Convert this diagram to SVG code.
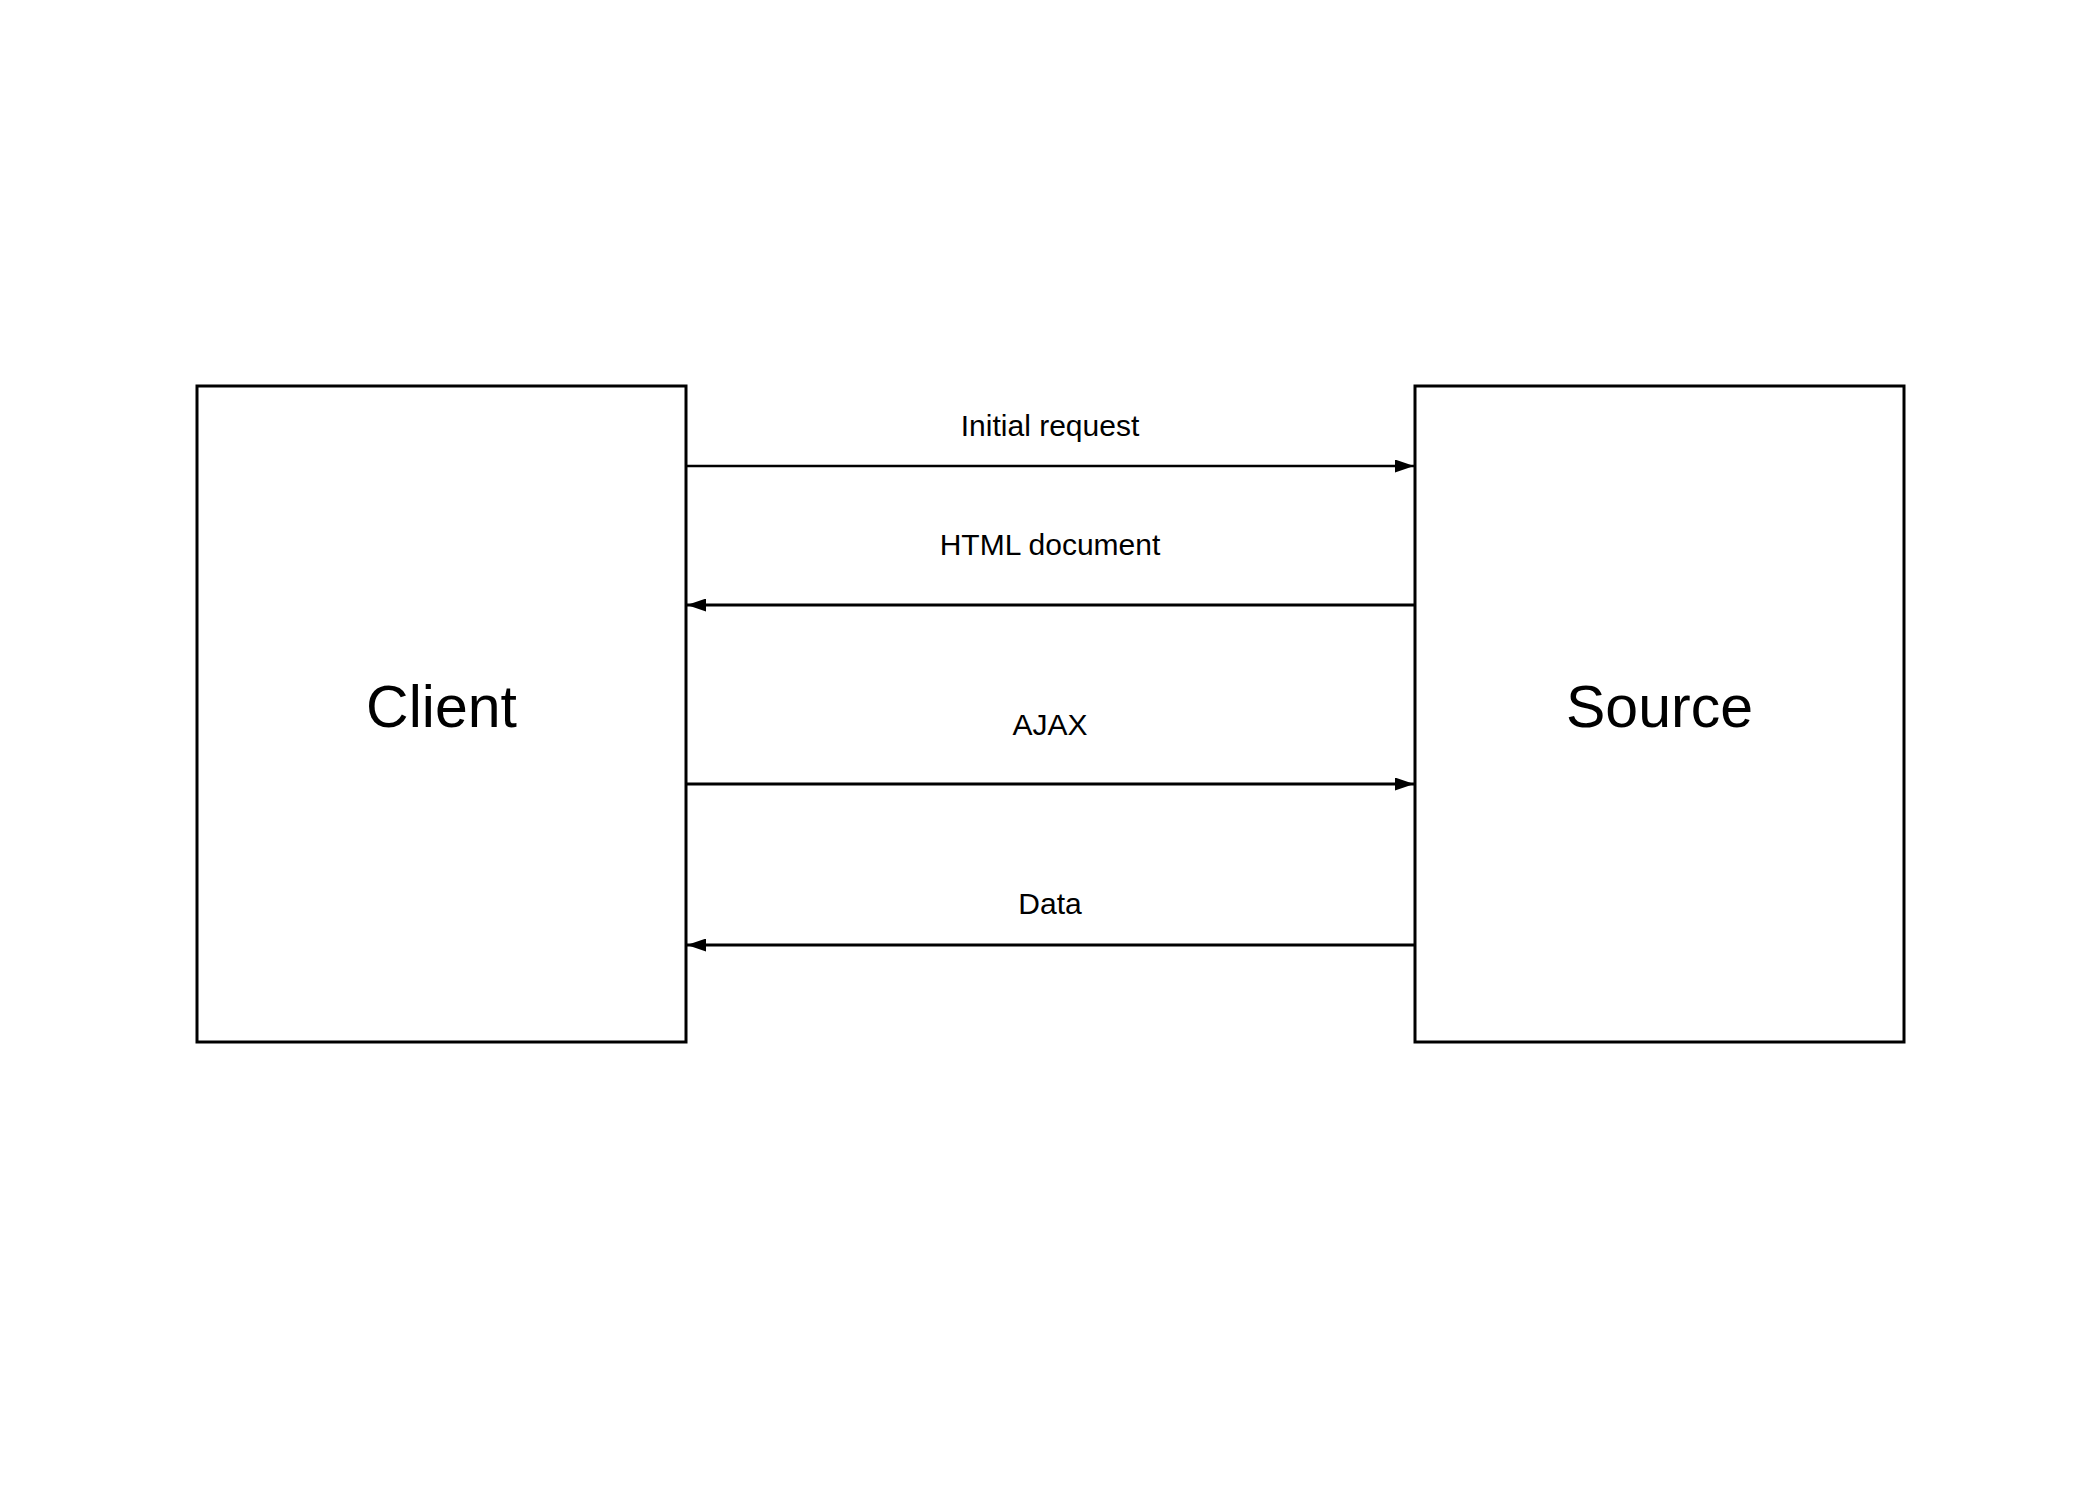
<svg xmlns="http://www.w3.org/2000/svg" width="2100" height="1500" viewBox="0 0 2100 1500">
<style>
.box{fill:#fff;stroke:#000;stroke-width:3}
.big{font-family:"Liberation Sans",Arial,sans-serif;font-size:59px;fill:#000;text-anchor:middle}
.lbl{font-family:"Liberation Sans",Arial,sans-serif;font-size:30px;fill:#000;text-anchor:middle}
.conn{stroke:#000;stroke-width:2.7;fill:none}
.thick{stroke-width:3.2}
</style>
<defs>
<marker id="ah" viewBox="0 0 19 13" refX="19" refY="6.5" markerWidth="19" markerHeight="13" markerUnits="userSpaceOnUse" orient="auto">
<path d="M0,0 L19,6.5 L0,13 Z" fill="#000"/>
</marker>
</defs>
<rect width="2100" height="1500" fill="#fff"/>
<g id="client">
<rect class="box" x="197" y="386" width="489" height="656"/>
<text class="big" x="441.5" y="727">Client</text>
</g>
<g id="source">
<rect class="box" x="1415" y="386" width="489" height="656"/>
<text class="big" x="1659.5" y="727">Source</text>
</g>
<g id="connectors">
<line class="conn" x1="686" y1="466" x2="1414" y2="466" marker-end="url(#ah)"/>
<text class="lbl" x="1050" y="436">Initial request</text>
<line class="conn thick" x1="1415" y1="605" x2="687" y2="605" marker-end="url(#ah)"/>
<text class="lbl" x="1050" y="555">HTML document</text>
<line class="conn thick" x1="686" y1="784" x2="1414" y2="784" marker-end="url(#ah)"/>
<text class="lbl" x="1050" y="735">AJAX</text>
<line class="conn thick" x1="1415" y1="945" x2="687" y2="945" marker-end="url(#ah)"/>
<text class="lbl" x="1050" y="914">Data</text>
</g>
</svg>
